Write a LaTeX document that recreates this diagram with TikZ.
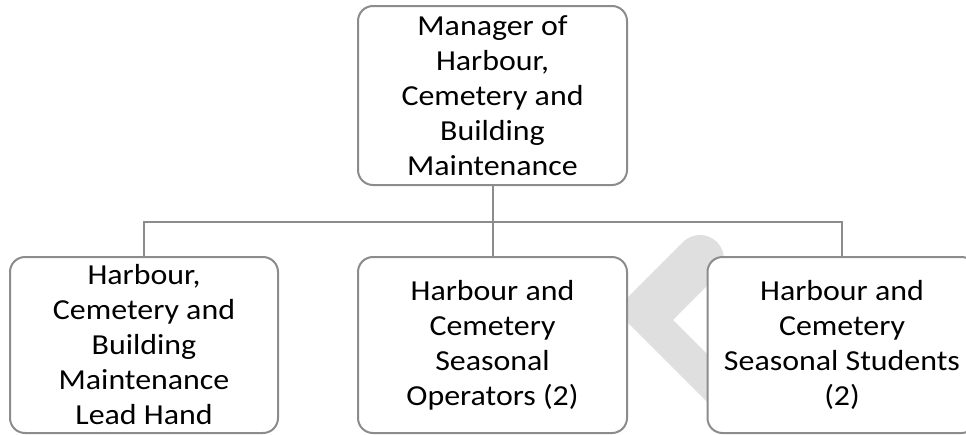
\documentclass[tikz,border=0pt]{standalone}
\usepackage{fontspec}
\setmainfont{Carlito}[FakeStretch=1.1]
\usepackage{tikz}
\usetikzlibrary{positioning,calc}
\definecolor{linegray}{HTML}{8C8C8C}
\definecolor{markgray}{HTML}{DFDFDF}

\begin{document}
\begin{tikzpicture}[x=1pt,y=1pt,
  font=\fontsize{29}{35}\selectfont,
  box/.style={draw=linegray,line width=2pt,rounded corners=15pt,align=center,fill=white,inner sep=0pt,minimum width=269pt},
  toprow/.style={box,minimum height=179pt},
  lowrow/.style={box,minimum height=176pt},
  link/.style={draw=linegray,line width=2pt}]
  \useasboundingbox (0,0) rectangle (966,-434);
  \clip (0,0) rectangle (966,-434);
  % watermark behind the boxes
  \fill[markgray] (615,-310) -- (683,-242) arc[start angle=135,end angle=-45,radius=24]
    -- (673,-320) -- (763,-410) -- (715,-410) -- cycle;
  \node[toprow] (mgr) at (492.5,-95.5) {Manager of\\Harbour,\\Cemetery and\\Building\\Maintenance};
  \node[lowrow] (oper) at (492.5,-345) {Harbour and\\Cemetery\\Seasonal\\Operators (2)};
  \node[lowrow,minimum width=268pt] (lead) at (144,-345) {Harbour,\\Cemetery and\\Building\\Maintenance\\Lead Hand};
  \node[lowrow] (stud) at (842,-345) {Harbour and\\Cemetery\\Seasonal Students\\(2)};
  \coordinate (bus) at ($(mgr.south)+(0,-36)$);
  \draw[link] (mgr.south) -- (oper.north);
  \draw[link] (lead.north) |- (bus) -| (stud.north);
\end{tikzpicture}
\end{document}
